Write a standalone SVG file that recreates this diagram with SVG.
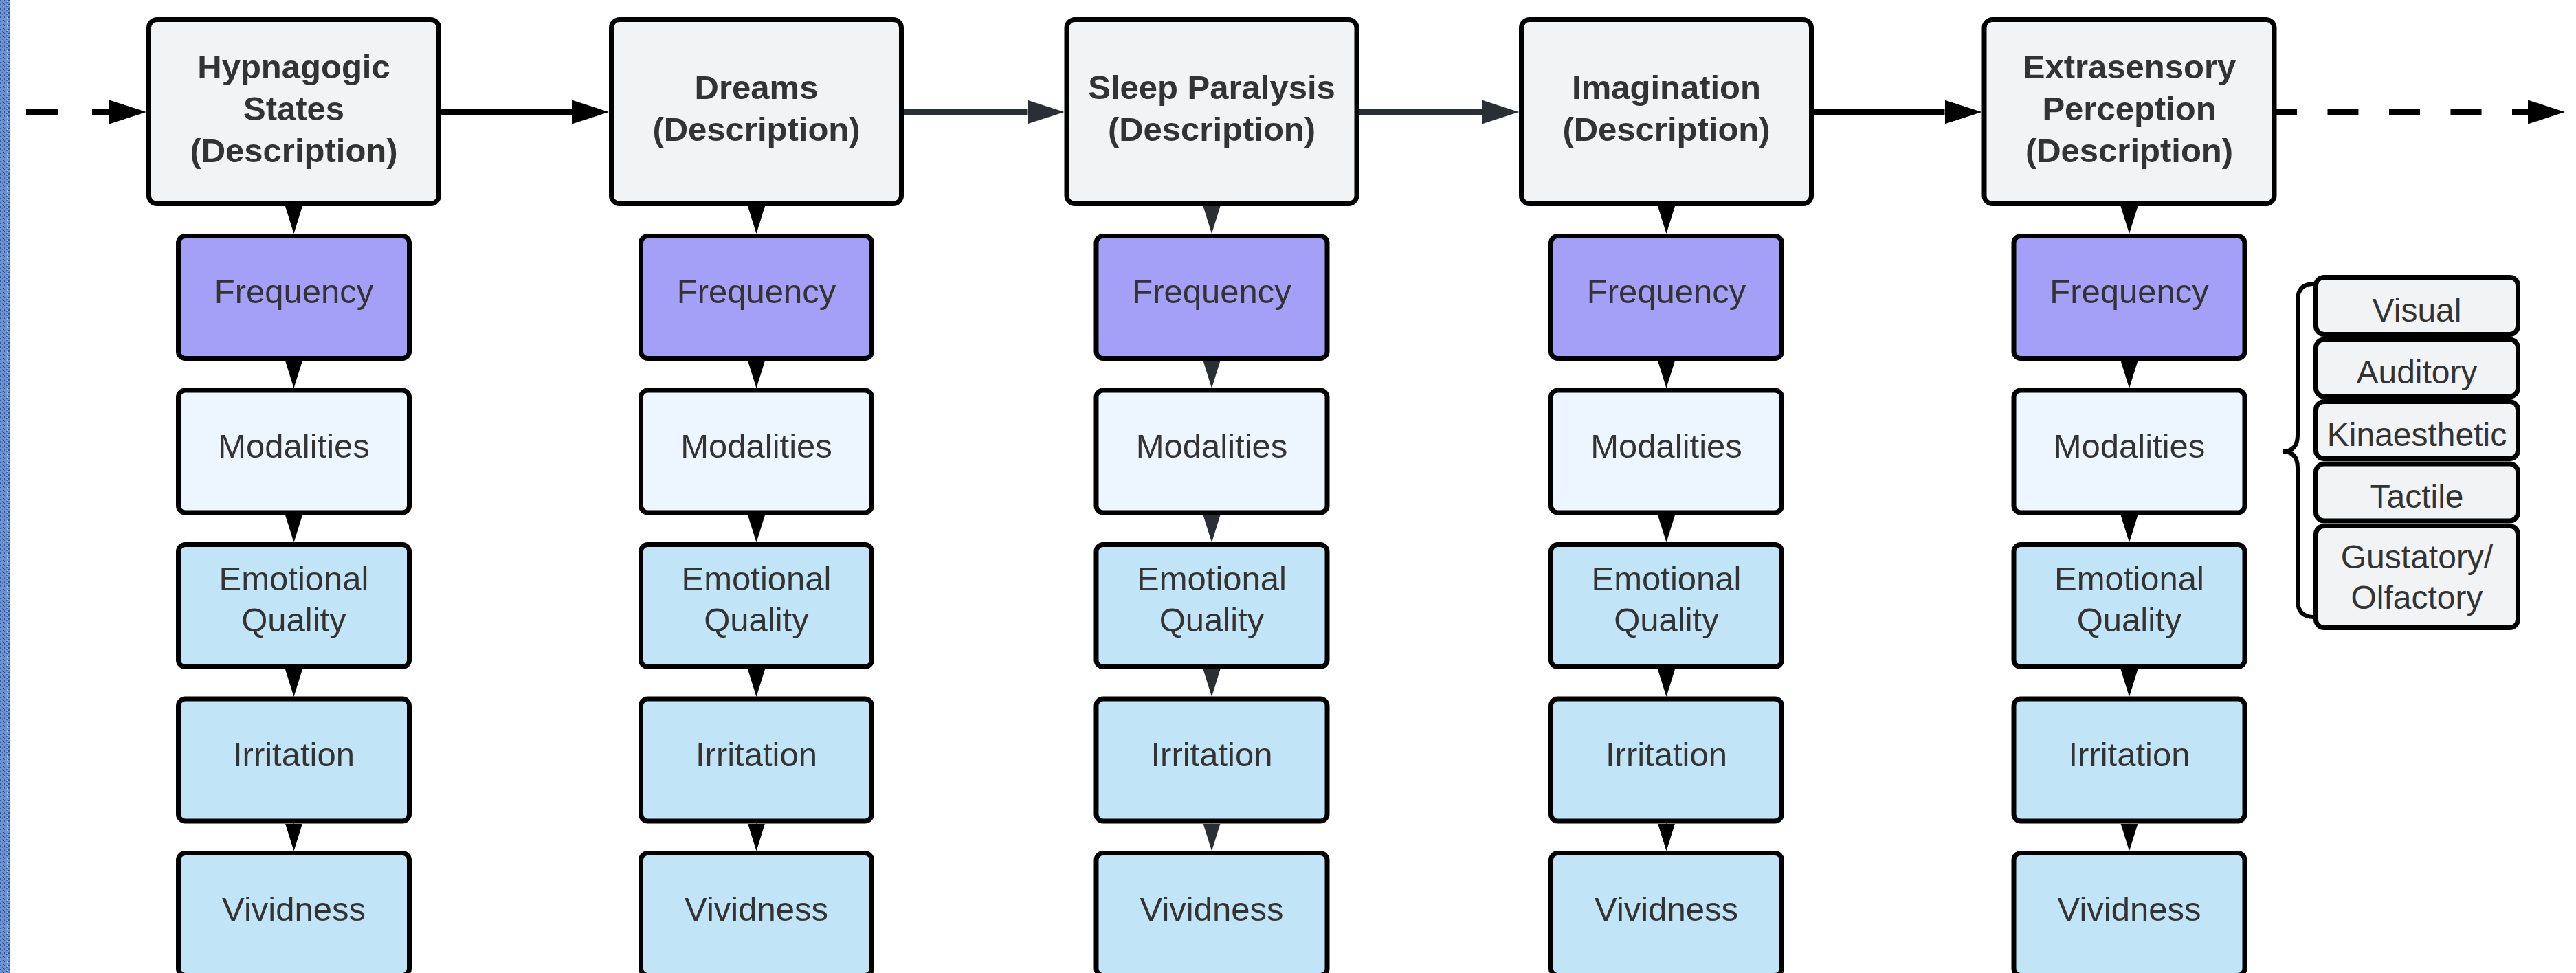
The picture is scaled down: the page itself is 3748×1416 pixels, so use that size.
<svg xmlns="http://www.w3.org/2000/svg" width="3748" height="1416" viewBox="0 0 3748 1416">
<style>
.box{stroke:#000;stroke-width:7}
.hdr{fill:#f2f3f5}
.freq{fill:#a4a0f7}
.mod{fill:#edf5fe}
.att{fill:#c1e4f6}
.lst{fill:#f2f3f5;stroke:#000;stroke-width:7}
text{font-family:"Liberation Sans",Arial,sans-serif;fill:#333;text-anchor:middle}
.ht{font-size:49px;font-weight:bold}
.bt{font-size:49px}
.lt{font-size:48px}
.hline{fill:none;stroke-width:10}
.k{stroke:#000}
.d{stroke:#2a2e35}
.vline{fill:none;stroke-width:1}
</style>
<defs>
<pattern id="denim" width="6" height="6" patternUnits="userSpaceOnUse">
<rect width="6" height="6" fill="#6e92d0"/>
<rect x="0" y="0" width="2" height="2" fill="#2f559c"/>
<rect x="3" y="3" width="2" height="1" fill="#3f67ae"/>
<rect x="4" y="1" width="1" height="2" fill="#a9c0e8"/>
<rect x="1" y="4" width="1" height="2" fill="#4a72b8"/>
<rect x="5" y="5" width="1" height="1" fill="#23457f"/>
</pattern>
<marker id="hk" markerUnits="userSpaceOnUse" markerWidth="60" markerHeight="40" refX="0" refY="20" orient="auto" viewBox="0 0 60 40"><path d="M0,2.5 L54,20 L0,37.5 Z" fill="#000"/></marker>
<marker id="hd" markerUnits="userSpaceOnUse" markerWidth="60" markerHeight="40" refX="0" refY="20" orient="auto" viewBox="0 0 60 40"><path d="M0,2.5 L54,20 L0,37.5 Z" fill="#2a2e35"/></marker>
<marker id="vk" markerUnits="userSpaceOnUse" markerWidth="42" markerHeight="30" refX="0" refY="15" orient="auto" viewBox="0 0 42 30"><path d="M0,2.5 L40,15 L0,27.5 Z" fill="#000"/></marker>
<marker id="vd" markerUnits="userSpaceOnUse" markerWidth="42" markerHeight="30" refX="0" refY="15" orient="auto" viewBox="0 0 42 30"><path d="M0,2.5 L40,15 L0,27.5 Z" fill="#2a2e35"/></marker>
</defs>
<rect x="0" y="0" width="3748" height="1416" fill="#fff"/>
<rect x="0" y="0" width="15" height="1416" fill="url(#denim)"/>

<g id="connectors">
<path class="hline k" d="M38,163 L159,163" stroke-dasharray="47 49" marker-end="url(#hk)"/>
<path class="hline k" d="M642,163 L832,163" marker-end="url(#hk)"/>
<path class="hline d" d="M1315,163 L1494.5,163" marker-end="url(#hd)"/>
<path class="hline d" d="M1977.5,163 L2156,163" marker-end="url(#hd)"/>
<path class="hline k" d="M2639,163 L2829.5,163" marker-end="url(#hk)"/>
<path class="hline k" d="M3312,163 L3678,163" stroke-dasharray="45 44.5" stroke-dashoffset="15" marker-end="url(#hk)"/>
<path class="vline k" d="M427.5,299 L427.5,300" marker-end="url(#vk)"/>
<path class="vline k" d="M427.5,524 L427.5,525" marker-end="url(#vk)"/>
<path class="vline k" d="M427.5,748.5 L427.5,749.5" marker-end="url(#vk)"/>
<path class="vline k" d="M427.5,973 L427.5,974" marker-end="url(#vk)"/>
<path class="vline k" d="M427.5,1197.5 L427.5,1198.5" marker-end="url(#vk)"/>
<path class="vline k" d="M1100.5,299 L1100.5,300" marker-end="url(#vk)"/>
<path class="vline k" d="M1100.5,524 L1100.5,525" marker-end="url(#vk)"/>
<path class="vline k" d="M1100.5,748.5 L1100.5,749.5" marker-end="url(#vk)"/>
<path class="vline k" d="M1100.5,973 L1100.5,974" marker-end="url(#vk)"/>
<path class="vline k" d="M1100.5,1197.5 L1100.5,1198.5" marker-end="url(#vk)"/>
<path class="vline d" d="M1763,299 L1763,300" marker-end="url(#vd)"/>
<path class="vline d" d="M1763,524 L1763,525" marker-end="url(#vd)"/>
<path class="vline d" d="M1763,748.5 L1763,749.5" marker-end="url(#vd)"/>
<path class="vline d" d="M1763,973 L1763,974" marker-end="url(#vd)"/>
<path class="vline d" d="M1763,1197.5 L1763,1198.5" marker-end="url(#vd)"/>
<path class="vline k" d="M2424.5,299 L2424.5,300" marker-end="url(#vk)"/>
<path class="vline k" d="M2424.5,524 L2424.5,525" marker-end="url(#vk)"/>
<path class="vline k" d="M2424.5,748.5 L2424.5,749.5" marker-end="url(#vk)"/>
<path class="vline k" d="M2424.5,973 L2424.5,974" marker-end="url(#vk)"/>
<path class="vline k" d="M2424.5,1197.5 L2424.5,1198.5" marker-end="url(#vk)"/>
<path class="vline k" d="M3098,299 L3098,300" marker-end="url(#vk)"/>
<path class="vline k" d="M3098,524 L3098,525" marker-end="url(#vk)"/>
<path class="vline k" d="M3098,748.5 L3098,749.5" marker-end="url(#vk)"/>
<path class="vline k" d="M3098,973 L3098,974" marker-end="url(#vk)"/>
<path class="vline k" d="M3098,1197.5 L3098,1198.5" marker-end="url(#vk)"/>
</g>

<!-- Column 1 -->
<g id="hypnagogic">
<rect class="box hdr" x="216.5" y="28.5" width="422" height="268" rx="12"/>
<text class="ht" x="427.5" y="114">Hypnagogic</text>
<text class="ht" x="427.5" y="175">States</text>
<text class="ht" x="427.5" y="236">(Description)</text>
</g>
<g id="c1-frequency"><rect class="box freq" x="259.5" y="343.5" width="336" height="178" rx="10"/><text class="bt" x="427.5" y="441">Frequency</text></g>
<g id="c1-modalities"><rect class="box mod" x="259.5" y="568" width="336" height="178" rx="10"/><text class="bt" x="427.5" y="665.5">Modalities</text></g>
<g id="c1-emotional"><rect class="box att" x="259.5" y="792.5" width="336" height="178" rx="10"/><text class="bt" x="427.5" y="858.5">Emotional</text><text class="bt" x="427.5" y="918.5">Quality</text></g>
<g id="c1-irritation"><rect class="box att" x="259.5" y="1017" width="336" height="178" rx="10"/><text class="bt" x="427.5" y="1115">Irritation</text></g>
<g id="c1-vividness"><rect class="box att" x="259.5" y="1241.5" width="336" height="178" rx="10"/><text class="bt" x="427.5" y="1339.5">Vividness</text></g>

<!-- Column 2 -->
<g id="dreams">
<rect class="box hdr" x="889.5" y="28.5" width="422" height="268" rx="12"/>
<text class="ht" x="1100.5" y="144">Dreams</text>
<text class="ht" x="1100.5" y="205">(Description)</text>
</g>
<g id="c2-frequency"><rect class="box freq" x="932.5" y="343.5" width="336" height="178" rx="10"/><text class="bt" x="1100.5" y="441">Frequency</text></g>
<g id="c2-modalities"><rect class="box mod" x="932.5" y="568" width="336" height="178" rx="10"/><text class="bt" x="1100.5" y="665.5">Modalities</text></g>
<g id="c2-emotional"><rect class="box att" x="932.5" y="792.5" width="336" height="178" rx="10"/><text class="bt" x="1100.5" y="858.5">Emotional</text><text class="bt" x="1100.5" y="918.5">Quality</text></g>
<g id="c2-irritation"><rect class="box att" x="932.5" y="1017" width="336" height="178" rx="10"/><text class="bt" x="1100.5" y="1115">Irritation</text></g>
<g id="c2-vividness"><rect class="box att" x="932.5" y="1241.5" width="336" height="178" rx="10"/><text class="bt" x="1100.5" y="1339.5">Vividness</text></g>

<!-- Column 3 -->
<g id="sleep-paralysis">
<rect class="box hdr" x="1552" y="28.5" width="422" height="268" rx="12"/>
<text class="ht" x="1763" y="144">Sleep Paralysis</text>
<text class="ht" x="1763" y="205">(Description)</text>
</g>
<g id="c3-frequency"><rect class="box freq" x="1595" y="343.5" width="336" height="178" rx="10"/><text class="bt" x="1763" y="441">Frequency</text></g>
<g id="c3-modalities"><rect class="box mod" x="1595" y="568" width="336" height="178" rx="10"/><text class="bt" x="1763" y="665.5">Modalities</text></g>
<g id="c3-emotional"><rect class="box att" x="1595" y="792.5" width="336" height="178" rx="10"/><text class="bt" x="1763" y="858.5">Emotional</text><text class="bt" x="1763" y="918.5">Quality</text></g>
<g id="c3-irritation"><rect class="box att" x="1595" y="1017" width="336" height="178" rx="10"/><text class="bt" x="1763" y="1115">Irritation</text></g>
<g id="c3-vividness"><rect class="box att" x="1595" y="1241.5" width="336" height="178" rx="10"/><text class="bt" x="1763" y="1339.5">Vividness</text></g>

<!-- Column 4 -->
<g id="imagination">
<rect class="box hdr" x="2213.5" y="28.5" width="422" height="268" rx="12"/>
<text class="ht" x="2424.5" y="144">Imagination</text>
<text class="ht" x="2424.5" y="205">(Description)</text>
</g>
<g id="c4-frequency"><rect class="box freq" x="2256.5" y="343.5" width="336" height="178" rx="10"/><text class="bt" x="2424.5" y="441">Frequency</text></g>
<g id="c4-modalities"><rect class="box mod" x="2256.5" y="568" width="336" height="178" rx="10"/><text class="bt" x="2424.5" y="665.5">Modalities</text></g>
<g id="c4-emotional"><rect class="box att" x="2256.5" y="792.5" width="336" height="178" rx="10"/><text class="bt" x="2424.5" y="858.5">Emotional</text><text class="bt" x="2424.5" y="918.5">Quality</text></g>
<g id="c4-irritation"><rect class="box att" x="2256.5" y="1017" width="336" height="178" rx="10"/><text class="bt" x="2424.5" y="1115">Irritation</text></g>
<g id="c4-vividness"><rect class="box att" x="2256.5" y="1241.5" width="336" height="178" rx="10"/><text class="bt" x="2424.5" y="1339.5">Vividness</text></g>

<!-- Column 5 -->
<g id="extrasensory">
<rect class="box hdr" x="2887" y="28.5" width="422" height="268" rx="12"/>
<text class="ht" x="3098" y="114">Extrasensory</text>
<text class="ht" x="3098" y="175">Perception</text>
<text class="ht" x="3098" y="236">(Description)</text>
</g>
<g id="c5-frequency"><rect class="box freq" x="2930" y="343.5" width="336" height="178" rx="10"/><text class="bt" x="3098" y="441">Frequency</text></g>
<g id="c5-modalities"><rect class="box mod" x="2930" y="568" width="336" height="178" rx="10"/><text class="bt" x="3098" y="665.5">Modalities</text></g>
<g id="c5-emotional"><rect class="box att" x="2930" y="792.5" width="336" height="178" rx="10"/><text class="bt" x="3098" y="858.5">Emotional</text><text class="bt" x="3098" y="918.5">Quality</text></g>
<g id="c5-irritation"><rect class="box att" x="2930" y="1017" width="336" height="178" rx="10"/><text class="bt" x="3098" y="1115">Irritation</text></g>
<g id="c5-vividness"><rect class="box att" x="2930" y="1241.5" width="336" height="178" rx="10"/><text class="bt" x="3098" y="1339.5">Vividness</text></g>

<!-- Modalities list -->
<g id="modality-brace">
<path d="M3367,413 Q3343,413 3343,437 L3343,633 Q3343,657 3321,657 Q3343,657 3343,681 L3343,874 Q3343,898 3367,898" fill="none" stroke="#000" stroke-width="6"/>
</g>
<g id="list-visual"><rect class="lst" x="3369.5" y="403.5" width="294" height="83" rx="12"/><text class="lt" x="3516.5" y="467.5">Visual</text></g>
<g id="list-auditory"><rect class="lst" x="3369.5" y="494" width="294" height="83" rx="12"/><text class="lt" x="3516.5" y="558">Auditory</text></g>
<g id="list-kinaesthetic"><rect class="lst" x="3369.5" y="584.5" width="294" height="83" rx="12"/><text class="lt" x="3516.5" y="648.5">Kinaesthetic</text></g>
<g id="list-tactile"><rect class="lst" x="3369.5" y="675" width="294" height="83" rx="12"/><text class="lt" x="3516.5" y="739">Tactile</text></g>
<g id="list-gustatory"><rect class="lst" x="3369.5" y="765.5" width="294" height="148" rx="12"/><text class="lt" x="3516.5" y="827">Gustatory/</text><text class="lt" x="3516.5" y="885.5">Olfactory</text></g>
</svg>
